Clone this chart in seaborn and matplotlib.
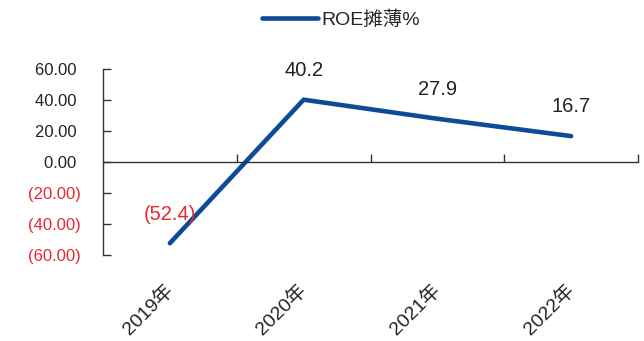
import matplotlib
matplotlib.use("Agg")
import matplotlib.pyplot as plt
import seaborn as sns
import pandas as pd
from matplotlib.ticker import FixedLocator

years = ["2019年", "2020年", "2021年", "2022年"]
roe_diluted = [-52.4, 40.2, 27.9, 16.7]
series_name = "ROE摊薄%"
y_ticks = [60, 40, 20, 0, -20, -40, -60]

sns.set_style("white")
plt.rcParams["font.family"] = ["Liberation Sans", "Noto Sans CJK SC", "DejaVu Sans"]

BLUE = "#0D4A98"
RED = "#E8262E"
DARK = "#222222"

df = pd.DataFrame({"pos": range(len(years)), "value": roe_diluted, "series": series_name})

fig = plt.figure(figsize=(6.44, 3.41), dpi=100)
ax = fig.add_axes([103 / 644, 1 - 255 / 341, (638 - 103) / 644, (255 - 69) / 341])

sns.lineplot(data=df, x="pos", y="value", hue="series", palette=[BLUE],
             linewidth=3.3, ax=ax, legend=True)

ax.set_xlim(-0.5, len(years) - 0.5)
ax.set_ylim(-60, 60)
ax.set_xlabel("")
ax.set_ylabel("")

# axis lines: left spine and zero line carrying category boundary ticks
for s in ["top", "right"]:
    ax.spines[s].set_visible(False)
ax.spines["bottom"].set_position(("data", 0))
for s in ["left", "bottom"]:
    ax.spines[s].set_color("#333333")
    ax.spines[s].set_linewidth(1.0)

ax.xaxis.set_major_locator(FixedLocator([i + 0.5 for i in range(len(years))]))
ax.tick_params(axis="x", bottom=True, direction="in", length=6, width=1.0,
               color="#333333", labelbottom=False)

# y ticks with accounting-style negative labels
ax.set_yticks(y_ticks)
ylabels = [f"{v:.2f} " if v >= 0 else f"({abs(v):.2f})" for v in y_ticks]
ax.set_yticklabels(ylabels, fontsize=12)
for lab, v in zip(ax.get_yticklabels(), y_ticks):
    lab.set_color(RED if v < 0 else DARK)
ax.tick_params(axis="y", left=True, direction="in", length=6, width=1.0,
               color="#333333", pad=16)

# category labels on the bottom edge of the axes
sec = ax.secondary_xaxis("bottom")
sec.set_xticks(range(len(years)))
sec.set_xticklabels(years, fontsize=14, rotation=45, ha="right", va="center",
                    rotation_mode="anchor", color=DARK)
sec.tick_params(axis="x", length=0, pad=23)
sec.spines["bottom"].set_visible(False)

# value labels above each point
for i, v in enumerate(roe_diluted):
    txt = f"{v:.1f}" if v >= 0 else f"({abs(v):.1f})"
    ax.annotate(txt, (i, v), xytext=(0, 21), textcoords="offset points",
                ha="center", va="center", fontsize=14.5,
                color=RED if v < 0 else DARK)

handles, labels = ax.get_legend_handles_labels()
ax.legend(handles, labels, loc="center", bbox_to_anchor=(341 / 644, 1 - 20 / 341),
          bbox_transform=fig.transFigure, frameon=False, fontsize=14,
          handlelength=2.9, handletextpad=0.2)

fig.savefig("out.png", dpi=100, facecolor="white")
